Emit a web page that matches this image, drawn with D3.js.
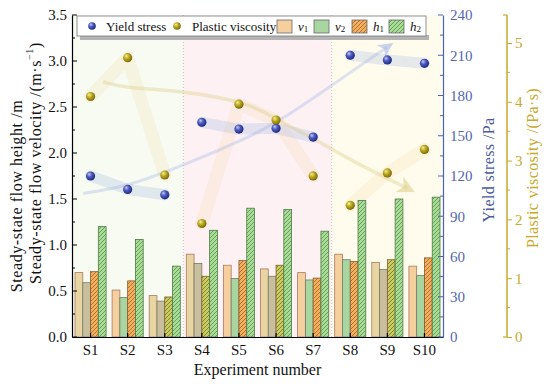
<!DOCTYPE html>
<html>
<head>
<meta charset="utf-8">
<script src="https://cdn.jsdelivr.net/npm/d3@7"></script>
</head>
<body style="margin:0;background:#fff">
<svg id="chart" width="550" height="384"></svg>
<script>
// values
const categories = ["S1", "S2", "S3", "S4", "S5", "S6", "S7", "S8", "S9", "S10"];
const v1 = [0.70, 0.51, 0.45, 0.90, 0.78, 0.74, 0.70, 0.90, 0.81, 0.77];
const v2 = [0.59, 0.43, 0.39, 0.80, 0.635, 0.66, 0.62, 0.84, 0.735, 0.67];
const h1 = [0.71, 0.61, 0.435, 0.66, 0.83, 0.78, 0.64, 0.82, 0.84, 0.86];
const h2 = [1.20, 1.06, 0.77, 1.16, 1.40, 1.385, 1.15, 1.485, 1.50, 1.52];
const yieldStress = [120, 110, 106, 160, 155, 155.5, 149, 210, 206.5, 204];
const plasticViscosity = [4.09, 4.75, 2.755, 1.93, 3.96, 3.69, 2.74, 2.24, 2.79, 3.19];
// experiment groups (first, last index)
const groups = [[0, 2], [3, 6], [7, 9]];
const leftTicks = [0, 0.5, 1.0, 1.5, 2.0, 2.5, 3.0, 3.5];
const yieldTicks = [0, 30, 60, 90, 120, 150, 180, 210, 240];
const viscTicks = [0, 1, 2, 3, 4, 5];
// faint trend arrows [category index, value]
const yieldTrend = [[-0.2, 107], [0.98, 112], [2.41, 127], [4.57, 152], [5.64, 171], [6.99, 197], [7.99, 216]];
const viscTrend = [[0.34, 4.34], [0.93, 4.23], [2.41, 4.20], [4.30, 3.98], [5.03, 3.69], [6.10, 3.35], [6.99, 3.01], [8.53, 2.53]];

const FONT = "Liberation Serif, serif";
const svg = d3.select("#chart").attr("font-family", FONT);
const L = 72, R = 443, T = 15, B = 337;

const x = d3.scaleBand().domain(categories).range([L, R]).padding(0);
const bw = x.bandwidth();
const keys = ["v1", "v2", "h1", "h2"];
const xi = d3.scaleBand().domain(keys).range([3, bw - 3]).padding(0);
const y = d3.scaleLinear().domain([0, 3.5]).range([B, T]);
const yY = d3.scaleLinear().domain([0, 240]).range([B, T]);
const yV = d3.scaleLinear().domain([0, 5.476]).range([B, T]);
const cx = i => x(categories[0]) + bw / 2 + i * bw;

const defs = svg.append("defs");
function hatch(id, bg, line) {
  const p = defs.append("pattern").attr("id", id).attr("patternUnits", "userSpaceOnUse")
    .attr("width", 4).attr("height", 4);
  p.append("rect").attr("width", 4).attr("height", 4).attr("fill", bg);
  p.append("path").attr("d", "M0,4 L4,0 M-1,1 L1,-1 M3,5 L5,3")
    .attr("stroke", line).attr("stroke-width", 0.9);
}
hatch("hOr", "#f2b060", "#a86a2a");
hatch("hOl", "#c9cc62", "#7c7a2a");
hatch("hGr", "#a9dc96", "#5f9a55");
function sphere(id, c0, c1, c2) {
  const g = defs.append("radialGradient").attr("id", id).attr("cx", "40%").attr("cy", "40%").attr("r", "60%").attr("fx", "35%").attr("fy", "30%");
  g.append("stop").attr("offset", "0%").attr("stop-color", c0);
  g.append("stop").attr("offset", "45%").attr("stop-color", c1);
  g.append("stop").attr("offset", "100%").attr("stop-color", c2);
}
sphere("sBlue", "#c8ccf4", "#4f5cc0", "#1f2a80");
sphere("sTan", "#f4f0a0", "#bfae22", "#7a6a08");
function arrowHead(id, col) {
  defs.append("marker").attr("id", id).attr("viewBox", "0 0 10 10").attr("refX", 5).attr("refY", 5)
    .attr("markerWidth", 5).attr("markerHeight", 5).attr("orient", "auto")
    .append("path").attr("d", "M0,0 L10,5 L0,10 L3,5 Z").attr("fill", col);
}
arrowHead("aBlue", "rgba(150,170,230,0.5)");
arrowHead("aTan", "rgba(215,200,120,0.5)");

// shaded experiment groups
const regionFill = ["#f7fbf1", "#fdf1f3", "#fffcee"];
groups.forEach((g, k) => {
  svg.append("rect").attr("x", x(categories[g[0]])).attr("y", T)
    .attr("width", x(categories[g[1]]) + bw - x(categories[g[0]])).attr("height", B - T)
    .attr("fill", regionFill[k]);
});
groups.slice(1).forEach(g => {
  svg.append("line").attr("x1", x(categories[g[0]])).attr("x2", x(categories[g[0]]))
    .attr("y1", T).attr("y2", B).attr("stroke", "#b8b8b8").attr("stroke-width", 0.8)
    .attr("stroke-dasharray", "1,2");
});

// decorative ribbons through the points of each group
const deco = svg.append("g");
groups.forEach(g => {
  const idx = d3.range(g[0], g[1] + 1);
  deco.append("path")
    .attr("d", d3.line()(idx.map(i => [cx(i), yV(plasticViscosity[i])])))
    .attr("fill", "none").attr("stroke", "rgba(245,205,140,0.16)").attr("stroke-width", 13)
    .attr("stroke-linecap", "round").attr("stroke-linejoin", "round");
  deco.append("path")
    .attr("d", d3.line()(idx.map(i => [cx(i), yY(yieldStress[i])])))
    .attr("fill", "none").attr("stroke", "rgba(140,170,225,0.22)").attr("stroke-width", 11)
    .attr("stroke-linecap", "round").attr("stroke-linejoin", "round");
});
deco.append("path")
  .attr("d", d3.line().curve(d3.curveBasis)(yieldTrend.map(d => [cx(d[0]), yY(d[1])])))
  .attr("fill", "none").attr("stroke", "rgba(150,170,230,0.3)").attr("stroke-width", 3)
  .attr("marker-end", "url(#aBlue)");
deco.append("path")
  .attr("d", d3.line().curve(d3.curveBasis)(viscTrend.map(d => [cx(d[0]), yV(d[1])])))
  .attr("fill", "none").attr("stroke", "rgba(215,200,120,0.35)").attr("stroke-width", 3.5)
  .attr("marker-end", "url(#aTan)");

// bars
const muted = ["S1", "S3", "S4", "S6", "S9"];
const olive = ["S3", "S4", "S6", "S9"];
const series = { v1: v1, v2: v2, h1: h1, h2: h2 };
function barFill(k, c) {
  if (k === "v1") return muted.includes(c) ? "#e9d5a2" : "#f6cf9f";
  if (k === "v2") return muted.includes(c) ? "#c9bf9f" : "#a9d6a0";
  if (k === "h1") return olive.includes(c) ? "url(#hOl)" : "url(#hOr)";
  return "url(#hGr)";
}
const barStroke = { v1: "#a87a64", v2: "#6e7e66", h1: "#8a5a2a", h2: "#4e7a48" };
const gBars = svg.append("g");
categories.forEach((c, i) => {
  keys.forEach(k => {
    gBars.append("rect")
      .attr("x", x(c) + xi(k)).attr("y", y(series[k][i]))
      .attr("width", xi.bandwidth()).attr("height", B - y(series[k][i]))
      .attr("fill", barFill(k, c)).attr("stroke", barStroke[k]).attr("stroke-width", 0.8);
  });
});

// points
const gPts = svg.append("g");
categories.forEach((c, i) => {
  gPts.append("circle").attr("cx", cx(i)).attr("cy", yY(yieldStress[i])).attr("r", 4.6).attr("fill", "url(#sBlue)");
  gPts.append("circle").attr("cx", cx(i)).attr("cy", yV(plasticViscosity[i])).attr("r", 4.6).attr("fill", "url(#sTan)");
});

function styleAxis(sel, col) {
  sel.attr("font-family", FONT).attr("font-size", 15);
  sel.selectAll("text").attr("font-family", FONT).style("font-family", FONT)
    .attr("font-size", 15).attr("fill", col);
}

// left axis
const axL = svg.append("g").attr("transform", `translate(${L},0)`)
  .call(d3.axisLeft(y).tickValues(leftTicks).tickFormat(d3.format(".1f")).tickSize(0).tickPadding(5));
axL.select(".domain").attr("stroke", "#000").attr("stroke-width", 1.2);
styleAxis(axL, "#111");
d3.range(0, 3.51, 0.25).forEach(v => {
  const major = Math.abs(v * 2 - Math.round(v * 2)) < 1e-6;
  svg.append("line").attr("x1", L).attr("x2", L + (major ? 5 : 3)).attr("y1", y(v)).attr("y2", y(v))
    .attr("stroke", "#000").attr("stroke-width", 1);
});

// bottom axis
const axB = svg.append("g").attr("transform", `translate(0,${B})`)
  .call(d3.axisBottom(x).tickSize(0).tickPadding(7));
axB.select(".domain").attr("stroke", "#000").attr("stroke-width", 1.2);
styleAxis(axB, "#111");
categories.forEach((c, i) => {
  svg.append("line").attr("x1", cx(i)).attr("x2", cx(i)).attr("y1", B).attr("y2", B - 4)
    .attr("stroke", "#000").attr("stroke-width", 1.2);
});

// right yield stress axis
const blue = "#4a62b8";
const axR = svg.append("g").attr("transform", `translate(${R},0)`)
  .call(d3.axisRight(yY).tickValues(yieldTicks).tickSize(0).tickPadding(7));
axR.select(".domain").attr("stroke", blue).attr("stroke-width", 1.2);
styleAxis(axR, "#5566b0");
d3.range(0, 241, 15).forEach(v => {
  svg.append("line").attr("x1", R).attr("x2", R - (v % 30 === 0 ? 5 : 3)).attr("y1", yY(v)).attr("y2", yY(v))
    .attr("stroke", blue).attr("stroke-width", 1);
});

// plastic viscosity axis
const gold = "#c9a928";
const xV = 507;
const axV = svg.append("g").attr("transform", `translate(${xV},0)`)
  .call(d3.axisRight(yV).tickValues(viscTicks).tickFormat(d3.format("d")).tickSize(5).tickPadding(3));
axV.select(".domain").remove();
axV.selectAll(".tick line").attr("stroke", gold).attr("stroke-width", 1);
styleAxis(axV, gold);
svg.append("line").attr("x1", xV).attr("x2", xV).attr("y1", T).attr("y2", B).attr("stroke", gold).attr("stroke-width", 1.5);
[T, B].forEach(v => svg.append("line").attr("x1", xV - 4).attr("x2", xV).attr("y1", v).attr("y2", v).attr("stroke", gold).attr("stroke-width", 1.2));
d3.range(0.5, 5.4, 1).forEach(v => {
  svg.append("line").attr("x1", xV).attr("x2", xV + 3).attr("y1", yV(v)).attr("y2", yV(v)).attr("stroke", gold).attr("stroke-width", 1);
});

// axis titles
function title(tr, col, ls) {
  return svg.append("text").attr("transform", tr)
    .attr("text-anchor", "middle").attr("dominant-baseline", "central")
    .attr("font-family", FONT).style("font-family", FONT)
    .attr("font-size", 16).attr("fill", col).attr("letter-spacing", ls);
}
title("translate(16,196) rotate(-90)", "#111", 0.6).text("Steady-state flow height /m");
const t2 = title("translate(35,163) rotate(-90)", "#111", 0.6);
t2.append("tspan").text("Steady-state flow velocity /(m\u00b7s");
t2.append("tspan").attr("font-size", 10).attr("dy", -6).text("\u22121");
t2.append("tspan").attr("dy", 6).text(")");
title(`translate(${cx(4.5)},369)`, "#111", 0).text("Experiment number");
title("translate(488,170) rotate(-90)", "#4a5a9e", 0.4).text("Yield stress /Pa");
title("translate(532,168) rotate(-90)", gold, 0.4).text("Plastic viscosity /(Pa\u00b7s)");

// legend
const lg = svg.append("g").attr("font-family", FONT);
lg.append("rect").attr("x", 80).attr("y", 35).attr("width", 349).attr("height", 5).attr("fill", "#b4b4b4");
lg.append("rect").attr("x", 77).attr("y", 16).attr("width", 349).attr("height", 20)
  .attr("fill", "#fff").attr("stroke", "#777").attr("stroke-width", 0.8);
const ly = 26;
function legText(xp) {
  return lg.append("text").attr("x", xp).attr("y", ly).attr("dominant-baseline", "central")
    .attr("font-family", FONT).style("font-family", FONT).attr("font-size", 13).attr("fill", "#111");
}
lg.append("circle").attr("cx", 92).attr("cy", ly).attr("r", 3.8).attr("fill", "url(#sBlue)");
legText(106).text("Yield stress");
lg.append("circle").attr("cx", 177).attr("cy", ly).attr("r", 3.8).attr("fill", "url(#sTan)");
legText(192).text("Plastic viscosity");
const sw = [
  { k: "v1", x: 277, fill: "#f6cf9f", base: "v", sub: "1" },
  { k: "v2", x: 314, fill: "#a9d6a0", base: "v", sub: "2" },
  { k: "h1", x: 352, fill: "url(#hOr)", base: "h", sub: "1" },
  { k: "h2", x: 389, fill: "url(#hGr)", base: "h", sub: "2" }
];
sw.forEach(s => {
  lg.append("rect").attr("x", s.x).attr("y", 20).attr("width", 15).attr("height", 13)
    .attr("fill", s.fill).attr("stroke", "#666").attr("stroke-width", 0.8);
  const t = legText(s.x + 21);
  t.append("tspan").attr("font-style", "italic").text(s.base);
  t.append("tspan").attr("font-size", 9).attr("dy", 3).text(s.sub);
});
</script>
</body>
</html>
